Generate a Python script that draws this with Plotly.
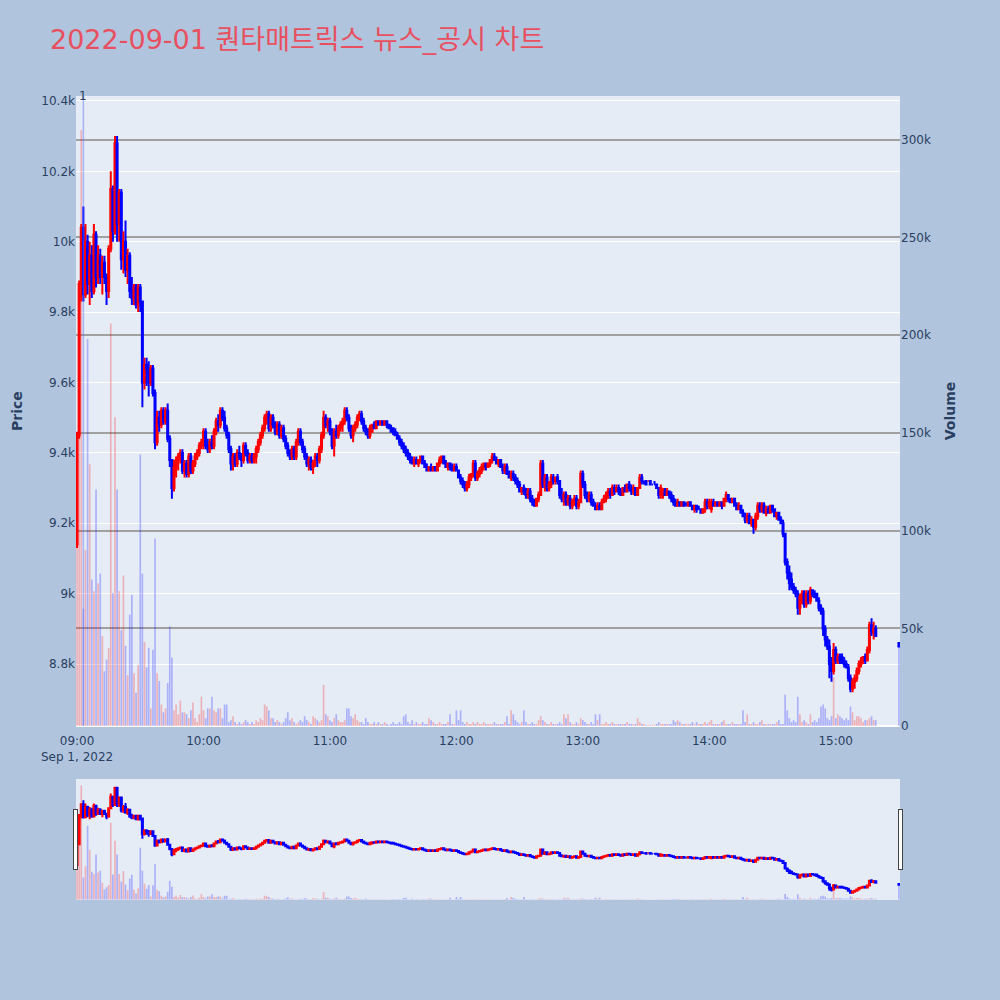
import pandas as pd
import plotly.graph_objects as go
from plotly.subplots import make_subplots

TITLE = "2022-09-01 퀀타매트릭스 뉴스_공시 차트"
NEWS_TIME = "2022-09-01 09:03"
NEWS_TEXT = "1"

# minute timestamps: continuous session 09:00-15:19 plus closing auction 15:30
times = list(pd.date_range("2022-09-01 09:00", periods=380, freq="min")) + [pd.Timestamp("2022-09-01 15:30")]

OPEN = [
9140,9450,9880,10040,9850,10000,9880,9960,9860,10020,
9900,9960,9900,9940,9900,9860,9980,10150,10030,10280,
10050,10140,9950,10000,9920,9960,9860,9840,9870,9820,
9870,9830,9600,9650,9640,9600,9640,9570,9430,9500,
9480,9520,9490,9520,9440,9380,9300,9360,9380,9390,
9400,9350,9370,9340,9390,9350,9370,9390,9400,9420,
9430,9460,9420,9410,9430,9420,9460,9490,9480,9520,
9500,9470,9450,9410,9370,9390,9370,9400,9390,9380,
9420,9400,9380,9390,9380,9390,9410,9430,9450,9470,
9500,9510,9470,9500,9480,9460,9480,9450,9470,9440,
9420,9400,9390,9410,9390,9430,9460,9430,9410,9390,
9370,9380,9360,9370,9390,9380,9410,9450,9500,9480,
9490,9460,9420,9460,9450,9470,9480,9490,9520,9500,
9470,9450,9470,9480,9500,9510,9490,9470,9460,9450,
9460,9480,9470,9490,9480,9490,9480,9490,9480,9470,
9470,9460,9450,9440,9430,9420,9410,9400,9390,9380,
9370,9380,9370,9380,9390,9370,9360,9350,9360,9350,
9360,9350,9370,9380,9390,9370,9360,9370,9360,9350,
9360,9350,9330,9320,9310,9300,9310,9330,9340,9370,
9330,9340,9350,9360,9370,9360,9370,9380,9390,9380,
9370,9380,9360,9350,9360,9340,9330,9340,9330,9320,
9310,9290,9300,9290,9280,9290,9270,9260,9250,9270,
9280,9370,9310,9330,9300,9310,9330,9320,9330,9320,
9280,9270,9280,9260,9270,9250,9260,9270,9250,9260,
9340,9310,9280,9270,9280,9260,9250,9240,9250,9240,
9260,9270,9280,9290,9280,9300,9290,9300,9290,9280,
9300,9290,9310,9300,9290,9300,9280,9300,9330,9320,
9320,9320,9320,9310,9310,9310,9300,9280,9280,9290,
9280,9290,9280,9270,9260,9250,9260,9250,9260,9250,
9250,9260,9250,9240,9250,9240,9240,9230,9240,9260,
9250,9240,9260,9250,9260,9250,9260,9250,9270,9280,
9270,9260,9270,9250,9240,9250,9230,9220,9210,9220,
9200,9210,9190,9220,9250,9240,9250,9230,9240,9230,
9250,9240,9220,9230,9210,9200,9170,9090,9060,9040,
9020,9010,9000,8960,8990,9000,8970,9000,8980,9010,
9000,9000,8980,8960,8950,8900,8870,8850,8800,8780,
8840,8810,8820,8820,8810,8800,8790,8760,8730,8750,
8760,8780,8800,8810,8820,8810,8840,8910,8890,8900,
8860]
HIGH = [
9460,9890,10050,10100,10050,10020,10000,9990,10050,10030,
9990,9980,9960,9960,9910,9990,10200,10160,10300,10300,
10150,10150,10030,10060,9980,9970,9900,9880,9880,9880,
9880,9830,9670,9670,9660,9650,9650,9580,9520,9520,
9530,9530,9530,9540,9450,9380,9380,9390,9400,9410,
9410,9380,9380,9400,9400,9380,9400,9410,9430,9440,
9470,9470,9440,9440,9450,9470,9500,9510,9530,9530,
9520,9480,9460,9420,9400,9400,9410,9420,9400,9430,
9430,9410,9400,9400,9400,9420,9440,9460,9480,9510,
9520,9520,9510,9510,9490,9490,9490,9480,9480,9450,
9430,9410,9420,9420,9440,9470,9470,9440,9420,9400,
9390,9390,9380,9400,9400,9420,9460,9520,9510,9500,
9500,9470,9470,9480,9480,9490,9500,9530,9530,9510,
9480,9480,9490,9510,9520,9520,9500,9480,9470,9480,
9480,9490,9490,9490,9490,9490,9490,9490,9480,9480,
9470,9470,9460,9450,9440,9430,9420,9410,9400,9390,
9390,9390,9380,9390,9390,9380,9370,9360,9370,9360,
9360,9370,9390,9390,9390,9380,9370,9370,9370,9370,
9370,9350,9340,9330,9320,9320,9340,9340,9380,9380,
9350,9360,9370,9370,9370,9370,9380,9400,9400,9390,
9380,9380,9370,9370,9370,9350,9350,9350,9340,9330,
9320,9300,9310,9300,9300,9300,9280,9270,9270,9290,
9380,9380,9340,9340,9320,9340,9340,9330,9340,9320,
9300,9290,9290,9280,9280,9270,9280,9280,9270,9350,
9350,9320,9290,9290,9290,9270,9260,9260,9260,9270,
9280,9290,9300,9300,9310,9310,9310,9310,9300,9300,
9310,9310,9320,9310,9310,9300,9300,9340,9340,9320,
9320,9320,9320,9310,9320,9310,9300,9310,9300,9300,
9300,9290,9290,9280,9270,9270,9260,9260,9260,9260,
9260,9260,9250,9250,9250,9250,9240,9240,9270,9270,
9270,9270,9270,9260,9260,9260,9260,9270,9290,9280,
9270,9270,9270,9260,9260,9250,9240,9230,9230,9230,
9220,9210,9230,9260,9260,9260,9260,9250,9250,9250,
9250,9240,9230,9230,9220,9210,9170,9100,9080,9060,
9030,9020,9010,9000,9010,9010,9010,9010,9020,9010,
9010,9000,8990,8970,8960,8910,8880,8870,8820,8860,
8850,8830,8830,8830,8820,8810,8800,8770,8760,8770,
8790,8810,8820,8820,8830,8850,8920,8930,8920,8910,
8860]
LOW = [
9130,9440,9830,9830,9840,9850,9820,9840,9850,9870,
9880,9880,9850,9880,9820,9840,9970,10000,10020,10000,
10000,9920,9910,9900,9880,9840,9820,9820,9810,9800,
9800,9530,9580,9590,9560,9590,9560,9410,9420,9460,
9470,9480,9480,9430,9360,9270,9290,9330,9350,9370,
9340,9330,9330,9330,9340,9340,9360,9380,9390,9410,
9410,9410,9400,9400,9410,9410,9450,9460,9470,9490,
9460,9440,9400,9350,9350,9360,9360,9380,9360,9370,
9390,9370,9370,9370,9370,9370,9400,9420,9440,9460,
9480,9460,9460,9470,9450,9450,9440,9440,9430,9410,
9390,9380,9380,9380,9380,9420,9420,9400,9380,9360,
9350,9350,9340,9360,9360,9370,9400,9440,9470,9460,
9450,9410,9390,9440,9440,9460,9460,9480,9490,9460,
9440,9430,9460,9470,9490,9480,9460,9450,9440,9440,
9460,9470,9470,9480,9480,9480,9480,9470,9470,9460,
9450,9450,9440,9420,9410,9400,9390,9380,9370,9370,
9360,9370,9360,9370,9370,9360,9350,9350,9350,9350,
9350,9350,9360,9370,9370,9360,9350,9350,9350,9350,
9350,9330,9310,9300,9290,9290,9300,9320,9330,9320,
9320,9330,9340,9350,9350,9360,9360,9370,9380,9370,
9360,9360,9340,9340,9340,9330,9320,9320,9310,9300,
9290,9280,9280,9270,9270,9260,9250,9250,9250,9260,
9280,9300,9290,9290,9290,9300,9310,9310,9310,9270,
9260,9250,9250,9250,9240,9240,9250,9240,9240,9260,
9300,9270,9260,9260,9250,9250,9240,9240,9240,9240,
9260,9260,9270,9270,9280,9280,9290,9280,9280,9280,
9290,9290,9290,9280,9280,9280,9280,9300,9310,9310,
9310,9320,9310,9310,9310,9300,9270,9270,9270,9280,
9280,9270,9260,9250,9250,9250,9250,9250,9250,9250,
9250,9250,9240,9230,9230,9240,9230,9230,9230,9240,
9240,9230,9250,9250,9250,9250,9240,9250,9260,9260,
9260,9260,9250,9240,9240,9230,9220,9200,9200,9200,
9190,9170,9180,9210,9230,9230,9230,9220,9230,9230,
9230,9220,9210,9210,9200,9160,9080,9040,9010,9010,
9000,8990,8940,8940,8970,8960,8960,8970,8970,8990,
8990,8980,8950,8940,8880,8850,8840,8760,8750,8770,
8800,8800,8800,8800,8790,8790,8750,8720,8720,8730,
8750,8770,8790,8800,8800,8810,8830,8880,8870,8880,
8850]
CLOSE = [
9450,9880,10040,9850,10000,9880,9960,9860,10020,9900,
9960,9900,9940,9900,9860,9980,10150,10030,10280,10050,
10140,9950,10000,9920,9960,9860,9840,9870,9820,9870,
9830,9600,9650,9640,9600,9640,9570,9430,9500,9480,
9520,9490,9520,9440,9380,9300,9360,9380,9390,9400,
9350,9370,9340,9390,9350,9370,9390,9400,9420,9430,
9460,9420,9410,9430,9420,9460,9490,9480,9520,9500,
9470,9450,9410,9370,9390,9370,9400,9390,9380,9420,
9400,9380,9390,9380,9390,9410,9430,9450,9470,9500,
9510,9470,9500,9480,9460,9480,9450,9470,9440,9420,
9400,9390,9410,9390,9430,9460,9430,9410,9390,9370,
9380,9360,9370,9390,9380,9410,9450,9500,9480,9490,
9460,9420,9460,9450,9470,9480,9490,9520,9500,9470,
9450,9470,9480,9500,9510,9490,9470,9460,9450,9470,
9480,9470,9490,9480,9490,9480,9490,9480,9470,9460,
9460,9450,9440,9430,9420,9410,9400,9390,9380,9370,
9380,9370,9380,9390,9370,9360,9350,9360,9350,9360,
9350,9370,9380,9390,9370,9360,9370,9360,9350,9360,
9350,9330,9320,9310,9300,9310,9330,9340,9370,9330,
9340,9350,9360,9370,9360,9370,9380,9390,9380,9370,
9380,9360,9350,9360,9340,9330,9340,9330,9320,9310,
9290,9300,9290,9280,9290,9270,9260,9250,9270,9280,
9370,9310,9330,9300,9310,9330,9320,9330,9320,9280,
9270,9280,9260,9270,9250,9260,9270,9250,9260,9340,
9310,9280,9270,9280,9260,9250,9240,9250,9240,9260,
9270,9280,9290,9280,9300,9290,9300,9290,9280,9300,
9290,9310,9300,9290,9300,9280,9300,9330,9320,9320,
9310,9320,9310,9310,9310,9300,9280,9300,9290,9280,
9290,9280,9270,9260,9250,9260,9250,9260,9250,9250,
9260,9250,9240,9250,9240,9240,9230,9240,9260,9250,
9260,9260,9250,9260,9250,9260,9250,9270,9280,9270,
9260,9270,9250,9240,9250,9230,9220,9210,9220,9200,
9210,9190,9220,9250,9240,9250,9230,9240,9230,9250,
9240,9220,9230,9210,9200,9170,9090,9060,9030,9020,
9010,9000,8960,8990,9000,8970,9000,8980,9010,9000,
8990,8980,8960,8950,8900,8870,8850,8800,8780,8840,
8810,8820,8810,8810,8800,8790,8760,8730,8750,8760,
8780,8800,8810,8820,8810,8840,8910,8890,8900,8880,
8850]
VOLUME_K = [
140,200,305,60,90,198,134,75,69,121,
73,78,46,28,34,40,206,68,158,121,
69,49,77,41,26,57,67,27,17,31,
139,78,43,30,40,9,39,96,27,23,
11,7,9,22,51,35,8,11,6,13,
7,7,6,4,8,12,4,2,6,15,
8,4,9,9,15,8,7,9,9,4,
11,11,2,3,5,2,1,2,1,2,
3,2,1,2,1,3,2,4,3,11,
10,8,4,4,2,3,2,1,2,4,
7,3,4,2,1,2,3,2,5,3,
2,1,5,4,3,2,3,21,6,5,
3,2,4,6,3,2,2,3,9,9,
5,4,6,3,2,2,1,4,2,1,
1,2,1,2,1,1,2,1,0.5,1,
2,1,1,2,1,5,6,2,1,3,
1,2,1,1,2,1,1,4,3,2,
1,1,2,1,1,1,2,6,1,1,
8,3,8,2,1,2,1,1,2,1,
2,1,1,2,1,1,1,1,2,1,
1,1,1,2,5,1,8,6,3,2,
1,2,8,2,1,1,2,1,1,3,
5,3,2,1,1,2,1,1,1,2,
1,6,4,6,2,1,1,2,1,4,
3,2,1,1,2,1,6,3,6,1,
1,2,1,1,2,1,1,1,1,1,
1,2,1,1,1,1,4,2,1,1,
0.5,0.5,0.5,0.5,0.5,1,2,1,1,1,
1,1,1,3,2,3,2,1,1,1,
1,1,2,1,2,1,1,1,2,1,
2,3,1,1,1,1,2,3,1,1,
1,2,1,1,1,1,8,2,6,1,
1,2,1,1,2,3,1,1,1,1,
1,1,2,3,1,1,16,8,4,2,
3,2,15,6,2,3,2,1,6,2,
3,2,4,10,11,9,4,3,5,25,
4,6,5,4,3,4,3,10,7,3,
5,5,4,2,3,3,4,5,3,3,
41]

volume = [v * 1000 for v in VOLUME_K]
vol_colors = ["rgba(255,0,0,0.25)" if c >= o else "rgba(0,0,255,0.25)" for o, c in zip(OPEN, CLOSE)]

fig = make_subplots(specs=[[{"secondary_y": True}]])
fig.add_trace(go.Candlestick(
    x=times, open=OPEN, high=HIGH, low=LOW, close=CLOSE,
    increasing=dict(line=dict(color="red", width=2), fillcolor="red"),
    decreasing=dict(line=dict(color="blue", width=2), fillcolor="blue"),
    showlegend=False, name="Price"), secondary_y=False)
fig.add_trace(go.Bar(x=times, y=volume, marker=dict(color=vol_colors, line=dict(width=0)),
                     showlegend=False, name="Volume"), secondary_y=True)

fig.add_shape(type="line", x0=NEWS_TIME, x1=NEWS_TIME, xref="x", yref="paper", y0=0, y1=1,
              line=dict(color="rgba(90,110,240,0.45)", width=1.5))
fig.add_annotation(x=NEWS_TIME, y=1, xref="x", yref="paper", text=NEWS_TEXT, showarrow=False,
                   xanchor="center", yanchor="middle", font=dict(size=12, color="#2a3f5f"))

fig.update_layout(
    width=1000, height=1000,
    font=dict(family="Verdana, DejaVu Sans, Noto Sans CJK KR, sans-serif"),
    paper_bgcolor="#B0C4DE",
    plot_bgcolor="#E5ECF6",
    title=dict(text=TITLE, x=0.05, xanchor="left", y=0.96, yanchor="middle",
               font=dict(size=27, color="#E8505F",
                         family="Verdana, DejaVu Sans, Noto Sans CJK KR, sans-serif")),
    margin=dict(l=76, r=100, t=96, b=100),
    showlegend=False,
    bargap=0.2,
)
fig.update_xaxes(domain=[0, 1], rangeslider=dict(visible=True), type="date",
                 ticks="outside", ticklen=4, tickcolor="rgba(0,0,0,0)")
fig.update_yaxes(title_text="<b>Price</b>", range=[8624, 10414], dtick=200,
                 gridcolor="white", secondary_y=False)
fig.update_yaxes(title_text="<b>Volume</b>", range=[0, 322400], dtick=50000,
                 gridcolor="#A0A0A0", gridwidth=1.5, secondary_y=True)

fig.write_html("out.html", post_script="document.body.style.margin='0';",
               config={"displayModeBar": False})
